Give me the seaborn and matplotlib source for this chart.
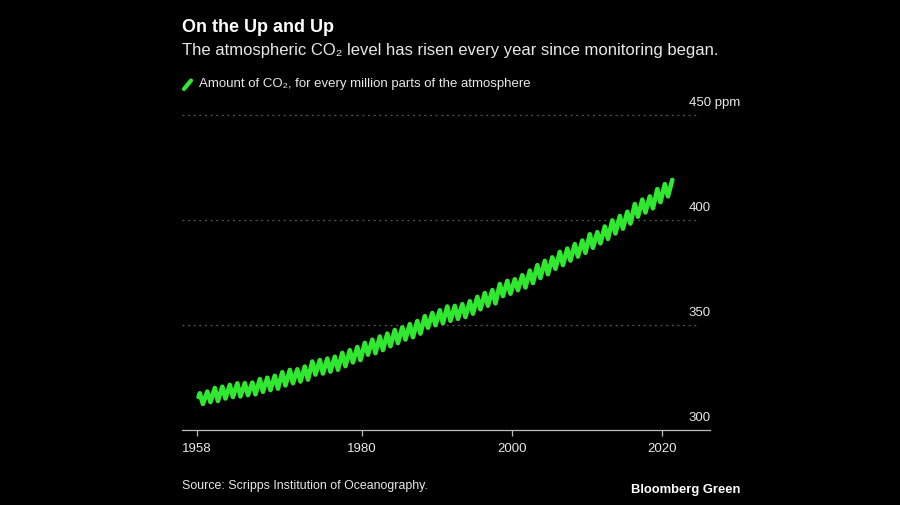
import numpy as np
import pandas as pd
import matplotlib
matplotlib.use("Agg")
import matplotlib.pyplot as plt
from matplotlib.lines import Line2D
import seaborn as sns

# ---- data (seasonal peak (May) and trough (Oct) per year) ----
years = list(range(1958, 2022))
peak_ppm = [317.5, 318.3, 320.0, 320.6, 321.5, 322.2, 322.3, 322.6, 324.2, 324.9,
            325.8, 327.5, 328.6, 328.9, 330.2, 332.6, 333.3, 334.0, 334.9, 336.7,
            338.0, 339.5, 341.5, 343.0, 344.5, 345.9, 347.6, 348.9, 350.4, 351.9,
            354.2, 355.7, 357.0, 358.8, 359.1, 359.9, 361.3, 363.4, 365.2, 366.6,
            369.5, 371.0, 371.8, 373.7, 375.9, 378.5, 380.5, 382.2, 384.8, 386.4,
            388.5, 390.2, 393.2, 394.2, 396.9, 399.8, 401.9, 403.9, 407.6, 409.7,
            411.2, 414.7, 417.1, 419.1]
trough_ppm = [312.4, 313.3, 313.8, 315.0, 315.7, 316.0, 316.6, 317.0, 318.2, 319.0,
              319.7, 321.2, 322.3, 323.1, 324.0, 326.4, 326.9, 327.8, 328.7, 330.4,
              332.2, 333.3, 335.9, 336.6, 338.1, 339.9, 341.4, 343.1, 344.2, 345.9,
              348.7, 349.9, 350.9, 352.0, 352.9, 353.8, 355.4, 357.5, 359.2, 360.3,
              363.8, 364.9, 366.6, 367.9, 370.0, 372.4, 374.2, 376.8, 378.6, 380.7,
              382.6, 384.4, 386.8, 388.9, 391.0, 393.6, 395.9, 398.3, 401.6, 403.6,
              405.6, 408.5, 411.3]
start_month, start_ppm = 3, 315.7
peak_month, trough_month = 5, 10

y_ticks = [300, 350, 400, 450]
y_tick_labels = ["300", "350", "400", "450 ppm"]
x_ticks = [1958, 1980, 2000, 2020]

title = "On the Up and Up"
subtitle = "The atmospheric CO\u2082 level has risen every year since monitoring began."
legend_label = "Amount of CO\u2082, for every million parts of the atmosphere"
source = "Source: Scripps Institution of Oceanography."
brand = "Bloomberg Green"

# ---- build table ----
rows = [(1958, start_month, start_ppm)]
for i, yr in enumerate(years):
    rows.append((yr, peak_month, peak_ppm[i]))
    if i < len(trough_ppm):
        rows.append((yr, trough_month, trough_ppm[i]))
df = pd.DataFrame(rows, columns=["year", "month", "ppm"])
df["date"] = df["year"] + (df["month"] - 0.5) / 12.0

# ---- style ----
sns.set_style("dark")
plt.rcParams["font.family"] = ["Liberation Sans", "DejaVu Sans"]
BG = "#000000"
GREEN = "#30e830"
TXT = "#e8e8e8"
GRAY = "#bdbdbd"

fig = plt.figure(figsize=(9, 5.05), dpi=100, facecolor=BG)
W, H = 900, 505
ax = fig.add_axes([182 / W, 1 - 430 / H, (710 - 182) / W, (430 - 104.5) / H])
ax.set_facecolor(BG)

xmin, xmax = 1956.0, 2026.4
ax.set_xlim(xmin, xmax)
ax.set_ylim(300, 455)

# gridlines (dotted, not full width)
ax.hlines([v for v in y_ticks if v > 300], xmin, 2025.0, colors="#5a5a5a",
          linestyles=(0, (1.5, 3)), linewidth=0.9, zorder=1)

sns.lineplot(data=df, x="date", y="ppm", ax=ax, color=GREEN, linewidth=3.3,
             estimator=None, sort=False, zorder=3, legend=False)
for ln in ax.lines:
    ln.set_solid_capstyle("round")
    ln.set_solid_joinstyle("round")

# axes cosmetics
for s in ["top", "right", "left"]:
    ax.spines[s].set_visible(False)
ax.spines["bottom"].set_color(GRAY)
ax.spines["bottom"].set_linewidth(0.9)
ax.grid(False)
ax.set_yticks([])
ax.set_xticks(x_ticks)
ax.set_xticklabels([str(x) for x in x_ticks])
ax.tick_params(axis="x", bottom=True, colors=GRAY, direction="out", length=4,
               width=0.9, labelsize=9.5, labelcolor=TXT, pad=5)
ax.set_xlabel("")
ax.set_ylabel("")

# right-side value labels above the gridlines
for v, lab in zip(y_ticks, y_tick_labels):
    ax.annotate(lab, xy=(2023.55, v), xytext=(0, 8.5), textcoords="offset points",
                ha="left", va="center", color=TXT, fontsize=9.5)

# ---- texts ----
fig.text(182 / W, 1 - 28 / H, title, color="white", fontsize=13.0, fontweight="bold",
         ha="left", va="center")
fig.text(182 / W, 1 - 50.5 / H, subtitle, color=TXT, fontsize=12.0,
         ha="left", va="center")
fig.text(199 / W, 1 - 84.5 / H, legend_label, color=TXT, fontsize=9.5,
         ha="left", va="center")
fig.add_artist(Line2D([184 / W, 191 / W], [1 - 89 / H, 1 - 80.5 / H],
                      color=GREEN, linewidth=3.0, solid_capstyle="round"))
fig.text(182 / W, 1 - 485.5 / H, source, color=TXT, fontsize=8.9,
         ha="left", va="center")
fig.text(740 / W, 1 - 490.5 / H, brand, color="white", fontsize=9.4,
         fontweight="bold", ha="right", va="center")

fig.savefig("out.png", dpi=100, facecolor=BG)
